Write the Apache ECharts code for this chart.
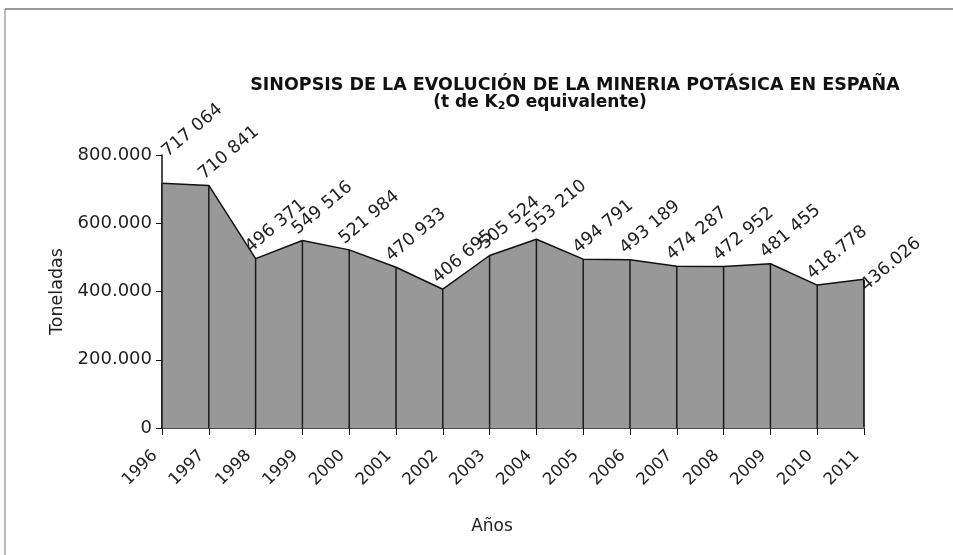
<!DOCTYPE html>
<html>
<head>
<meta charset="utf-8">
<script src="https://cdn.jsdelivr.net/npm/echarts@6/dist/echarts.min.js"></script>
<style>
  html, body { margin: 0; padding: 0; background: #fff; }
  #chart { width: 953px; height: 555px; }
</style>
</head>
<body>
<div id="chart"></div>
<script>
// Datos: producción de potasa (t de K2O equivalente)
var years = ['1996', '1997', '1998', '1999', '2000', '2001', '2002', '2003',
             '2004', '2005', '2006', '2007', '2008', '2009', '2010', '2011'];
var toneladas = [717064, 710841, 496371, 549516, 521984, 470933, 406695, 505524,
                 553210, 494791, 493189, 474287, 472952, 481455, 418778, 436026];
var etiquetas = ['717 064', '710 841', '496 371', '549 516', '521 984', '470 933', '406 695', '505 524',
                 '553 210', '494 791', '493 189', '474 287', '472 952', '481 455', '418.778', '436.026'];
var yTicks = [0, 200000, 400000, 600000, 800000];

var font = 'DejaVu Sans';

function fmtMiles(v) {
    if (v === 0) return '0';
    var s = String(v);
    return s.replace(/\B(?=(\d{3})+(?!\d))/g, '.');
}

var chart = echarts.init(document.getElementById('chart'));

// puntos de la línea con su etiqueta
var lineData = toneladas.map(function (v, i) {
    var item = { value: v, label: { formatter: etiquetas[i] } };
    if (i === 0) {
        // la primera etiqueta va más arriba, pegada al eje
        item.label.offset = [21, -12];
    }
    if (i === toneladas.length - 1) {
        // la última queda por debajo del punto
        item.label.offset = [-6, 15];
    }
    return item;
});

// líneas verticales en cada año (la última más gruesa)
var dropData = toneladas.map(function (v, i) {
    var item = { value: v };
    if (i === toneladas.length - 1) {
        item.itemStyle = { color: '#000', borderColor: '#000', borderWidth: 1.5 };
    }
    return item;
});

var option = {
    animation: false,
    backgroundColor: '#fff',
    title: [
        {
            text: 'SINOPSIS DE LA EVOLUCIÓN DE LA MINERIA POTÁSICA EN ESPAÑA',
            left: 570, top: 70, textAlign: 'center',
            textStyle: { fontFamily: font, fontSize: 17.5, fontWeight: 'bold', color: '#111', lineHeight: 20 }
        },
        {
            text: '{a|(t de K}{s|2}{a|O equivalente)}',
            left: 535, top: 89, textAlign: 'center',
            textStyle: {
                rich: {
                    a: { fontFamily: font, fontSize: 17, fontWeight: 'bold', color: '#111' },
                    s: { fontFamily: font, fontSize: 11, fontWeight: 'bold', color: '#111', padding: [7, 0, 0, 0] }
                }
            }
        }
    ],
    grid: { left: 162, right: 89, top: 155, bottom: 127, containLabel: false },
    xAxis: {
        type: 'category',
        data: years,
        boundaryGap: false,
        name: 'Años',
        nameLocation: 'middle',
        nameGap: 90,
        nameTextStyle: { fontFamily: font, fontSize: 17, color: '#222', padding: [0, 42, 0, 0] },
        axisLine: { lineStyle: { color: '#111', width: 1.5 } },
        axisTick: { show: true, alignWithLabel: true, length: 7, lineStyle: { color: '#111' } },
        axisLabel: {
            rotate: 45, fontFamily: font, fontSize: 16.5, color: '#222',
            margin: 18, padding: [0, 10, 0, 0], interval: 0
        },
        splitLine: { show: false }
    },
    yAxis: {
        type: 'value',
        min: 0,
        max: 800000,
        interval: 200000,
        name: 'Toneladas',
        nameLocation: 'middle',
        nameGap: 91,
        nameRotate: 90,
        nameTextStyle: { fontFamily: font, fontSize: 17.5, color: '#222' },
        axisLine: { show: true, lineStyle: { color: '#111', width: 1.5 } },
        axisTick: { show: true, length: 6, lineStyle: { color: '#111' } },
        axisLabel: {
            fontFamily: font, fontSize: 18, color: '#222', margin: 10,
            formatter: function (v) { return yTicks.indexOf(v) >= 0 ? fmtMiles(v) : ''; }
        },
        splitLine: { show: false }
    },
    series: [
        {
            type: 'line',
            data: lineData,
            symbol: 'circle',
            symbolSize: 0.1,
            showSymbol: true,
            itemStyle: { color: '#111' },
            lineStyle: { color: '#111', width: 1.5 },
            areaStyle: { color: '#989898', opacity: 1 },
            label: {
                show: true,
                position: 'inside',
                rotate: 40,
                align: 'left',
                verticalAlign: 'bottom',
                offset: [0, -3],
                fontFamily: font,
                fontSize: 17.5,
                color: '#222'
            },
            z: 2
        },
        {
            type: 'bar',
            data: dropData,
            barWidth: 1.5,
            barGap: '-100%',
            itemStyle: { color: '#1a1a1a' },
            silent: true,
            z: 3
        }
    ],
    graphic: [
        { type: 'line', shape: { x1: 5, y1: 9, x2: 953, y2: 9 }, style: { stroke: '#777', lineWidth: 1.5 } },
        { type: 'line', shape: { x1: 5, y1: 9, x2: 5, y2: 555 }, style: { stroke: '#777', lineWidth: 1 } }
    ]
};

chart.setOption(option);
</script>
</body>
</html>
